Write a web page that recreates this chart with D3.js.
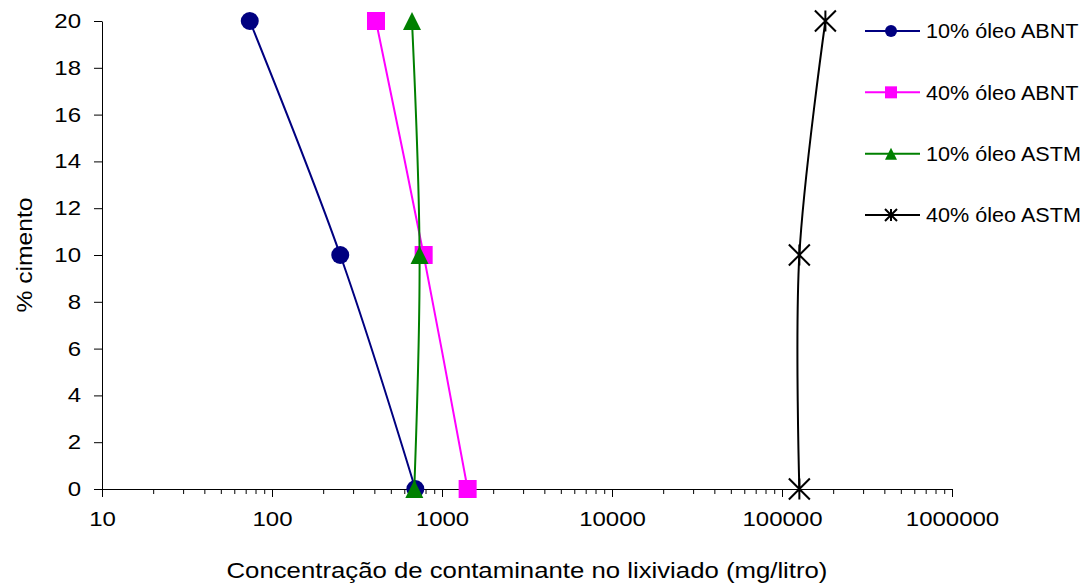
<!DOCTYPE html>
<html>
  <head>
    <script src="https://d3js.org/d3.v7.min.js"></script>
    <style>
      body { margin: 0; background: #fff; }
      text { font-family: "Liberation Sans", Arial, sans-serif; fill: #000; }
    </style>
  </head>
  <body>
    <div id="container"></div>

    <script type="text/javascript">
      // % cimento levels (y) for each measured point
      var cimento = [20, 10, 0];

      // concentration in the leachate (mg/litro), one value per cement level
      var abnt10 = [74, 252, 697];
      var abnt40 = [409, 780, 1415];
      var astm10 = [666, 738, 687];
      var astm40 = [180000, 126500, 126500];

      var seriesNames = ["10% óleo ABNT", "40% óleo ABNT", "10% óleo ASTM", "40% óleo ASTM"];
      var seriesColors = ["#000080", "#FF00FF", "#008000", "#000000"];
      var seriesMarkers = ["circle", "square", "triangle", "star"];

      var xTicks = [10, 100, 1000, 10000, 100000, 1000000];
      var yTicks = [0, 2, 4, 6, 8, 10, 12, 14, 16, 18, 20];

      var xTitle = "Concentração de contaminante no lixiviado (mg/litro)";
      var yTitle = "% cimento";

      var width = 1087,
          height = 586;

      var svg = d3.select("#container").append("svg")
        .attr("width", width)
        .attr("height", height);

      var x = d3.scaleLog().domain([10, 1000000]).range([102, 952]);
      var y = d3.scaleLinear().domain([0, 20]).range([489, 21]);

      // Excel draws its text a bit wider than the font's own metrics
      function stretch(sel, k) {
        sel.each(function() {
          var w = this.getComputedTextLength();
          d3.select(this)
            .attr("textLength", w * k)
            .attr("lengthAdjust", "spacingAndGlyphs");
        });
      }

      // minor ticks: 2..9 of every decade
      var minor = [];
      xTicks.slice(0, -1).forEach(function(t) {
        for (var m = 2; m < 10; m++) minor.push(t * m);
      });

      svg.append("g")
        .attr("transform", "translate(0," + y(0) + ")")
        .call(d3.axisBottom(x).tickValues(minor).tickSize(5).tickFormat(""))
        .call(function(g) { g.select(".domain").remove(); });

      var gx = svg.append("g")
        .attr("transform", "translate(0," + y(0) + ")")
        .call(d3.axisBottom(x).tickValues(xTicks).tickSize(8).tickSizeOuter(0)
          .tickPadding(15).tickFormat(d3.format("d")))
        .attr("font-size", 20)
        .attr("font-family", null);
      gx.selectAll("line, path").attr("stroke", "#000");
      stretch(gx.selectAll("text"), 1.2);

      var gy = svg.append("g")
        .attr("transform", "translate(" + x(10) + ",0)")
        .call(d3.axisLeft(y).tickValues(yTicks).tickSize(8).tickSizeOuter(0)
          .tickPadding(13))
        .attr("font-size", 20)
        .attr("font-family", null);
      gy.selectAll("line, path").attr("stroke", "#000");
      stretch(gy.selectAll("text"), 1.2);

      // axis titles
      var tx = svg.append("text")
        .attr("x", (x.range()[0] + x.range()[1]) / 2)
        .attr("y", 578)
        .attr("text-anchor", "middle")
        .attr("font-size", 22)
        .text(xTitle);
      stretch(tx, 1.17);

      var ty = svg.append("text")
        .attr("transform", "translate(32," + (y.range()[0] + y.range()[1]) / 2 + ") rotate(-90)")
        .attr("text-anchor", "middle")
        .attr("font-size", 22)
        .text(yTitle);
      stretch(ty, 1.12);

      var seriesValues = [abnt10, abnt40, astm10, astm40];

      var series = seriesNames.map(function(name, i) {
        return {
          name: name,
          color: seriesColors[i],
          marker: seriesMarkers[i],
          points: cimento.map(function(c, j) { return { x: seriesValues[i][j], y: c }; })
        };
      });

      // smoothed lines, as in the spreadsheet chart
      var line = d3.line()
        .x(function(d) { return x(d.x); })
        .y(function(d) { return y(d.y); })
        .curve(d3.curveCardinal.tension(0));

      function drawMarker(g, type, size, color) {
        var s = size / 2;
        if (type === "circle") {
          g.append("circle").attr("r", s).attr("fill", color);
        } else if (type === "square") {
          g.append("rect").attr("x", -s).attr("y", -s)
            .attr("width", size).attr("height", size).attr("fill", color);
        } else if (type === "triangle") {
          g.append("path")
            .attr("d", "M0," + (-s) + "L" + s + "," + s + "L" + (-s) + "," + s + "Z")
            .attr("fill", color);
        } else {
          g.append("path")
            .attr("d", "M" + (-s) + "," + (-s) + "L" + s + "," + s +
                       "M" + (-s) + "," + s + "L" + s + "," + (-s) +
                       "M0," + (-s) + "L0," + s)
            .attr("stroke", color)
            .attr("stroke-width", 2)
            .attr("fill", "none");
        }
      }

      var gs = svg.selectAll("g.series")
        .data(series)
        .enter().append("g")
          .attr("class", "series");

      gs.append("path")
        .attr("d", function(d) { return line(d.points); })
        .attr("fill", "none")
        .attr("stroke", function(d) { return d.color; })
        .attr("stroke-width", 2);

      gs.each(function(d) {
        var g = d3.select(this);
        d.points.forEach(function(p) {
          var m = g.append("g")
            .attr("transform", "translate(" + x(p.x) + "," + y(p.y) + ")");
          drawMarker(m, d.marker, d.marker === "star" ? 21 : 18, d.color);
        });
      });

      // legend
      var legendY = d3.scalePoint().domain(seriesNames).range([31, 215]);

      var lg = svg.selectAll("g.legend")
        .data(series)
        .enter().append("g")
          .attr("class", "legend")
          .attr("transform", function(d) { return "translate(0," + legendY(d.name) + ")"; });

      lg.append("line")
        .attr("x1", 865).attr("x2", 920)
        .attr("stroke", function(d) { return d.color; })
        .attr("stroke-width", 2);

      lg.each(function(d) {
        var m = d3.select(this).append("g").attr("transform", "translate(891,0)");
        drawMarker(m, d.marker, 12, d.color);
      });

      var lt = lg.append("text")
        .attr("x", 926)
        .attr("dy", "0.36em")
        .attr("font-size", 20)
        .text(function(d) { return d.name; });
      stretch(lt, 1.08);
    </script>
  </body>
</html>
